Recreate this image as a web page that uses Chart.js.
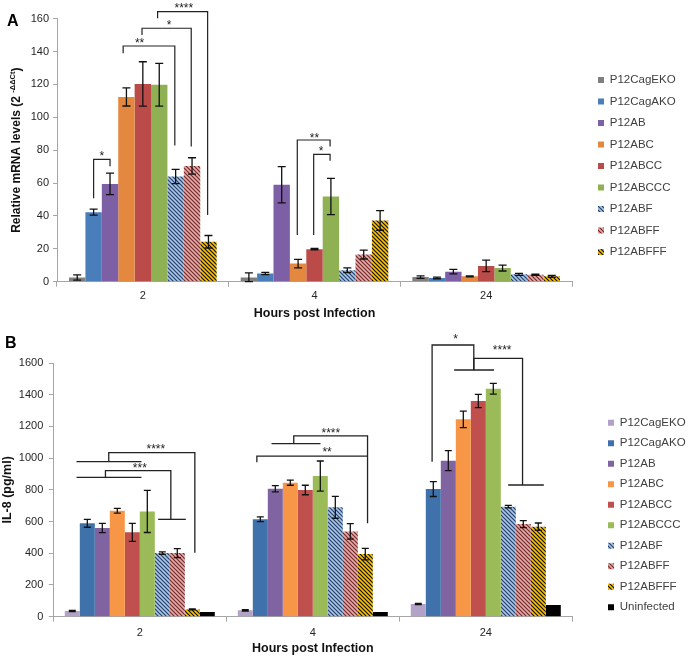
<!DOCTYPE html>
<html>
<head>
<meta charset="utf-8">
<script src="https://cdn.jsdelivr.net/npm/chart.js@4.4.0/dist/chart.umd.min.js"></script>
<style>
html, body { margin: 0; padding: 0; background: #ffffff; }
#wrap { position: relative; width: 689px; height: 658px; overflow: hidden; background: #fff; }
canvas { position: absolute; left: 0; }
#cA { top: 0; width: 689px; height: 330px; }
#cB { top: 330px; width: 689px; height: 328px; }
</style>
</head>
<body>
<div id="wrap">
  <canvas id="cA" width="689" height="330"></canvas>
  <canvas id="cB" width="689" height="328"></canvas>
</div>
<script>
// ---------------- DATA ----------------
const categories = ['2', '4', '24'];
const seriesNames = ['P12CagEKO', 'P12CagAKO', 'P12AB', 'P12ABC', 'P12ABCC', 'P12ABCCC', 'P12ABF', 'P12ABFF', 'P12ABFFF'];
const seriesNamesB = ['P12CagEKO', 'P12CagAKO', 'P12AB', 'P12ABC', 'P12ABCC', 'P12ABCCC', 'P12ABF', 'P12ABFF', 'P12ABFFF', 'Uninfected'];
const yTicksA = [0, 20, 40, 60, 80, 100, 120, 140, 160];
const yTicksB = [0, 200, 400, 600, 800, 1000, 1200, 1400, 1600];

// Panel A: relative mRNA levels (2^-ddCt), mean and error per time point
const mrnaEKO   = [2.5, 2.6, 2.8];
const mrnaAKO   = [42.3, 5.0, 2.3];
const mrnaAB    = [59.5, 59.0, 6.1];
const mrnaABC   = [112.4, 11.0, 3.3];
const mrnaABCC  = [120.3, 19.8, 9.6];
const mrnaABCCC = [119.8, 51.8, 8.3];
const mrnaABF   = [64.0, 7.0, 4.5];
const mrnaABFF  = [70.4, 16.5, 4.2];
const mrnaABFFF = [24.3, 37.3, 3.3];

const mrnaErrEKO   = [1.6, 2.8, 0.8];
const mrnaErrAKO   = [1.8, 0.7, 0.5];
const mrnaErrAB    = [6.5, 11.0, 1.4];
const mrnaErrABC   = [5.5, 2.6, 0.3];
const mrnaErrABCC  = [13.5, 0.4, 3.5];
const mrnaErrABCCC = [13.0, 11.0, 1.8];
const mrnaErrABF   = [4.3, 1.4, 0.6];
const mrnaErrABFF  = [5.0, 2.7, 0.4];
const mrnaErrABFFF = [3.8, 6.0, 0.6];

// Panel B: IL-8 (pg/ml)
const il8EKO   = [36, 40, 80];
const il8AKO   = [589, 614, 805];
const il8AB    = [559, 807, 984];
const il8ABC   = [668, 845, 1245];
const il8ABCC  = [532, 799, 1360];
const il8ABCCC = [664, 887, 1438];
const il8ABF   = [401, 690, 694];
const il8ABFF  = [401, 538, 584];
const il8ABFFF = [46, 395, 568];
const il8Uninf = [29, 29, 74];

const il8ErrEKO   = [4, 4, 4];
const il8ErrAKO   = [25, 15, 47];
const il8ErrAB    = [29, 20, 63];
const il8ErrABC   = [15, 16, 52];
const il8ErrABCC  = [57, 30, 42];
const il8ErrABCCC = [133, 95, 34];
const il8ErrABF   = [8, 69, 8];
const il8ErrABFF  = [28, 49, 22];
const il8ErrABFFF = [3, 36, 23];
const il8ErrUninf = [null, null, null];

// significance brackets: [bar position within group (bar widths), value]
const sigA = [
  { cat: 0, path: [[1.5, 50.7], [1.5, 74.4], [2.5, 74.4], [2.5, 70.2]], text: '*', at: [2.0, 78.1] },
  { cat: 0, path: [[3.3, 139], [3.3, 143.4], [6.45, 143.4], [6.45, 82.8]], text: '**', at: [4.3, 147] },
  { cat: 0, path: [[4.45, 150.1], [4.45, 154.2], [7.45, 154.2], [7.45, 82.2]], text: '*', at: [6.1, 158.2] },
  { cat: 0, path: [[5.4, 160.2], [5.4, 164.3], [8.45, 164.3], [8.45, 40.6]], text: '****', at: [7.0, 168.4] },
  { cat: 1, path: [[3.45, 28.4], [3.45, 86.2], [5.45, 86.2], [5.45, 82.2]], text: '**', at: [4.5, 89.2] },
  { cat: 1, path: [[4.45, 28.4], [4.45, 77.5], [5.45, 77.5], [5.45, 73.6]], text: '*', at: [4.9, 81.1] }
];
const sigB = [
  { cat: 0, path: [[0.78, 977.7], [5.11, 977.7]] },
  { cat: 0, path: [[2.93, 977.7], [2.93, 1034.5], [8.67, 1034.5], [8.67, 403.7]], text: '****', at: [6.07, 1078] },
  { cat: 0, path: [[0.78, 879], [5.11, 879]] },
  { cat: 0, path: [[2.71, 879], [2.71, 921], [7.07, 921], [7.07, 614]], text: '***', at: [5.0, 957] },
  { cat: 0, path: [[6.22, 614], [8.07, 614]] },
  { cat: 1, path: [[2.25, 1091], [5.51, 1091]] },
  { cat: 1, path: [[3.73, 1091], [3.73, 1140], [8.65, 1140], [8.65, 589]], text: '****', at: [6.2, 1177] },
  { cat: 1, path: [[1.27, 973.5], [1.27, 1013], [8.65, 1013]], text: '**', at: [5.95, 1055] },
  { cat: 2, path: [[1.42, 977.7], [1.42, 1713.6], [4.2, 1713.6], [4.2, 1556]], text: '*', at: [2.98, 1772] },
  { cat: 2, path: [[2.89, 1556], [5.55, 1556]] },
  { cat: 2, path: [[4.2, 1556], [4.2, 1629.5], [7.45, 1629.5], [7.45, 830.5]], text: '****', at: [6.09, 1699] },
  { cat: 2, path: [[6.49, 830.5], [8.87, 830.5]] }
];

// ---------------- STYLE ----------------
const FONT = "'Liberation Sans', Arial, Helvetica, sans-serif";
const AXIS = '#a6a6a6';
const TXT = '#262626';
Chart.defaults.font.family = FONT;
Chart.defaults.color = TXT;

function hatch(base, line) {
  const s = 4;
  const c = document.createElement('canvas');
  c.width = s; c.height = s;
  const g = c.getContext('2d');
  g.fillStyle = base; g.fillRect(0, 0, s, s);
  g.strokeStyle = line; g.lineWidth = 1.2;
  g.beginPath();
  g.moveTo(-1, -1); g.lineTo(s + 1, s + 1);
  g.moveTo(-1, s - 1); g.lineTo(1, s + 1);
  g.moveTo(s - 1, -1); g.lineTo(s + 1, 1);
  g.stroke();
  return g.createPattern(c, 'repeat');
}

const colorsA = ['#7f7f7f', '#4a7ebb', '#7d5fa5', '#e4873f', '#bb4b48', '#8fb153',
  hatch('#a9c6e6', '#25416b'), hatch('#e9aaaa', '#6e2a2a'), hatch('#ffc000', '#111111')];
const colorsB = ['#b3a2c7', '#3f72ab', '#8064a2', '#f79646', '#c0504d', '#9bbb59',
  hatch('#a9c6e6', '#25416b'), hatch('#e9aaaa', '#6e2a2a'), hatch('#ffc000', '#111111'), '#000000'];

const valuesA = [mrnaEKO, mrnaAKO, mrnaAB, mrnaABC, mrnaABCC, mrnaABCCC, mrnaABF, mrnaABFF, mrnaABFFF];
const errorsA = [mrnaErrEKO, mrnaErrAKO, mrnaErrAB, mrnaErrABC, mrnaErrABCC, mrnaErrABCCC, mrnaErrABF, mrnaErrABFF, mrnaErrABFFF];
const valuesB = [il8EKO, il8AKO, il8AB, il8ABC, il8ABCC, il8ABCCC, il8ABF, il8ABFF, il8ABFFF, il8Uninf];
const errorsB = [il8ErrEKO, il8ErrAKO, il8ErrAB, il8ErrABC, il8ErrABCC, il8ErrABCCC, il8ErrABF, il8ErrABFF, il8ErrABFFF, il8ErrUninf];

function makeDatasets(names, values, errors, colors) {
  return names.map((n, i) => ({
    label: n, data: values[i], errors: errors[i],
    backgroundColor: colors[i], borderWidth: 0
  }));
}

// ---------------- PLUGINS ----------------
const errorBars = {
  id: 'errorBars',
  afterDatasetsDraw(chart, args, o) {
    const ctx = chart.ctx, ys = chart.scales.y;
    ctx.save();
    ctx.strokeStyle = o.color || '#000';
    ctx.lineWidth = o.lineWidth || 1.3;
    chart.data.datasets.forEach((ds, di) => {
      if (!ds.errors) return;
      const meta = chart.getDatasetMeta(di);
      meta.data.forEach((bar, i) => {
        const e = ds.errors[i];
        if (e == null) return;
        const v = ds.data[i];
        const x = bar.x;
        const yt = ys.getPixelForValue(v + e);
        const yb = ys.getPixelForValue(Math.max(v - e, 0));
        const c = o.cap || 4;
        ctx.beginPath();
        ctx.moveTo(x, yt); ctx.lineTo(x, yb);
        ctx.moveTo(x - c, yt); ctx.lineTo(x + c, yt);
        ctx.moveTo(x - c, yb); ctx.lineTo(x + c, yb);
        ctx.stroke();
      });
    });
    ctx.restore();
  }
};

function barGeom(chart, cat) {
  const b = chart.getDatasetMeta(0).data[cat];
  return { left: b.x - b.width / 2, w: b.width };
}

const sigPlugin = {
  id: 'sig',
  afterDraw(chart, args, o) {
    if (!o.items) return;
    const ctx = chart.ctx, ys = chart.scales.y;
    ctx.save();
    ctx.strokeStyle = o.color; ctx.fillStyle = o.color;
    ctx.lineWidth = o.lineWidth;
    ctx.font = `${o.size}px ${FONT}`;
    ctx.textAlign = 'center'; ctx.textBaseline = 'alphabetic';
    o.items.forEach(it => {
      const g = barGeom(chart, it.cat);
      const X = p => g.left + p * g.w;
      if (it.path) {
        ctx.beginPath();
        it.path.forEach((pt, k) => {
          const x = X(pt[0]), y = ys.getPixelForValue(pt[1]);
          if (k) ctx.lineTo(x, y); else ctx.moveTo(x, y);
        });
        ctx.stroke();
      }
      if (it.text) ctx.fillText(it.text, X(it.at[0]), ys.getPixelForValue(it.at[1]) + o.size * 0.58);
    });
    ctx.restore();
  }
};

const legendPlace = {
  id: 'legendPlace',
  afterInit(chart, args, o) {
    const lg = chart.legend;
    const fit = lg.fit.bind(lg);
    lg.fit = function () { fit(); this.width = o.width; };
  },
  afterLayout(chart, args, o) {
    const lg = chart.legend;
    const pad = lg.options.labels.padding;
    lg.left = o.x - pad; lg.right = lg.left + lg.width;
    lg.top = o.y - pad; lg.bottom = chart.height; lg.height = lg.bottom - lg.top;
  }
};

const yTitleSup = {
  id: 'yTitleSup',
  afterDraw(chart, args, o) {
    if (!o.text) return;
    const ctx = chart.ctx, a = chart.chartArea;
    ctx.save();
    ctx.translate(o.x, (a.top + a.bottom) / 2);
    ctx.rotate(-Math.PI / 2);
    ctx.fillStyle = o.color;
    const f1 = `bold ${o.size}px ${FONT}`, f2 = `bold ${o.supSize}px ${FONT}`;
    ctx.font = f1;
    const w1 = ctx.measureText(o.text).width, w3 = ctx.measureText(o.after).width;
    ctx.font = f2;
    const w2 = ctx.measureText(o.sup).width;
    let x = -(w1 + w2 + w3) / 2;
    ctx.textBaseline = 'middle'; ctx.textAlign = 'left';
    ctx.font = f1; ctx.fillText(o.text, x, 0); x += w1;
    ctx.font = f2; ctx.fillText(o.sup, x, -o.size * 0.3); x += w2;
    ctx.font = f1; ctx.fillText(o.after, x, 0);
    ctx.restore();
  }
};

const panelLabel = {
  id: 'panelLabel',
  afterDraw(chart, args, o) {
    const ctx = chart.ctx;
    ctx.save();
    ctx.font = `bold ${o.size}px ${FONT}`;
    ctx.fillStyle = '#000';
    ctx.textAlign = 'left'; ctx.textBaseline = 'alphabetic';
    ctx.fillText(o.text, o.x, o.y);
    ctx.restore();
  }
};

const plainTick = v => String(v);

// ---------------- CHART A ----------------
new Chart(document.getElementById('cA'), {
  type: 'bar',
  data: { labels: categories, datasets: makeDatasets(seriesNames, valuesA, errorsA, colorsA) },
  options: {
    responsive: false, animation: false, events: [],
    layout: { padding: { top: 18.7, right: 0, bottom: 0, left: 0 } },
    datasets: { bar: { categoryPercentage: 0.86, barPercentage: 1 } },
    scales: {
      x: {
        grid: { display: true, drawOnChartArea: false, offset: true, tickLength: 5, color: AXIS },
        border: { color: AXIS },
        ticks: { font: { size: 11 }, padding: 3, color: TXT },
        title: { display: true, text: 'Hours post Infection', font: { size: 12.5, weight: 'bold' }, color: '#111', padding: { top: 0, bottom: 9 } },
        afterFit: s => { s.height = 48.3; }
      },
      y: {
        min: 0, max: 160,
        afterBuildTicks: s => { s.ticks = yTicksA.map(v => ({ value: v })); },
        ticks: { font: { size: 11 }, padding: 4, color: TXT, callback: plainTick },
        grid: { drawOnChartArea: false, tickLength: 4, color: AXIS },
        border: { color: AXIS },
        afterFit: s => { s.width = 57; }
      }
    },
    plugins: {
      legend: { position: 'right', align: 'start', labels: { boxWidth: 6, boxHeight: 6, padding: 10, font: { size: 11.5 }, color: '#404040' } },
      tooltip: { enabled: false },
      errorBars: { cap: 4, lineWidth: 1.3, color: '#111' },
      sig: { items: sigA, color: '#222', lineWidth: 1.2, size: 12 },
      legendPlace: { width: 117, x: 598, y: 74.25 },
      yTitleSup: { text: 'Relative mRNA levels (2 ', sup: '-ΔΔCt', after: ')', size: 12, supSize: 7.5, x: 17, color: '#111' },
      panelLabel: { text: 'A', x: 7, y: 26, size: 16 }
    }
  },
  plugins: [errorBars, sigPlugin, legendPlace, yTitleSup, panelLabel]
});

// ---------------- CHART B ----------------
new Chart(document.getElementById('cB'), {
  type: 'bar',
  data: { labels: categories, datasets: makeDatasets(seriesNamesB, valuesB, errorsB, colorsB) },
  options: {
    responsive: false, animation: false, events: [],
    layout: { padding: { top: 33, right: 0, bottom: 0, left: 0 } },
    datasets: { bar: { categoryPercentage: 0.867, barPercentage: 1 } },
    scales: {
      x: {
        grid: { display: true, drawOnChartArea: false, offset: true, tickLength: 5, color: AXIS },
        border: { color: AXIS },
        ticks: { font: { size: 11 }, padding: 4.7, color: TXT },
        title: { display: true, text: 'Hours post Infection', font: { size: 12.5, weight: 'bold' }, color: '#111', padding: { top: 0, bottom: 2.2 } },
        afterFit: s => { s.height = 41.3; }
      },
      y: {
        min: 0, max: 1600,
        afterBuildTicks: s => { s.ticks = yTicksB.map(v => ({ value: v })); },
        ticks: { font: { size: 11 }, padding: 5.5, color: TXT, callback: plainTick },
        grid: { drawOnChartArea: false, tickLength: 4.5, color: AXIS },
        border: { color: AXIS },
        title: { display: true, text: 'IL-8 (pg/ml)', font: { size: 12.5, weight: 'bold' }, color: '#111', padding: 0 },
        afterFit: s => { s.width = 53.3; }
      }
    },
    plugins: {
      legend: { position: 'right', align: 'start', labels: { boxWidth: 6, boxHeight: 6, padding: 9, font: { size: 11.5 }, color: '#404040' } },
      tooltip: { enabled: false },
      errorBars: { cap: 3.5, lineWidth: 1.3, color: '#111' },
      sig: { items: sigB, color: '#222', lineWidth: 1.3, size: 12 },
      legendPlace: { width: 116.7, x: 608, y: 87 },
      panelLabel: { text: 'B', x: 5, y: 18, size: 16 }
    }
  },
  plugins: [errorBars, sigPlugin, legendPlace, panelLabel]
});
</script>
</body>
</html>
